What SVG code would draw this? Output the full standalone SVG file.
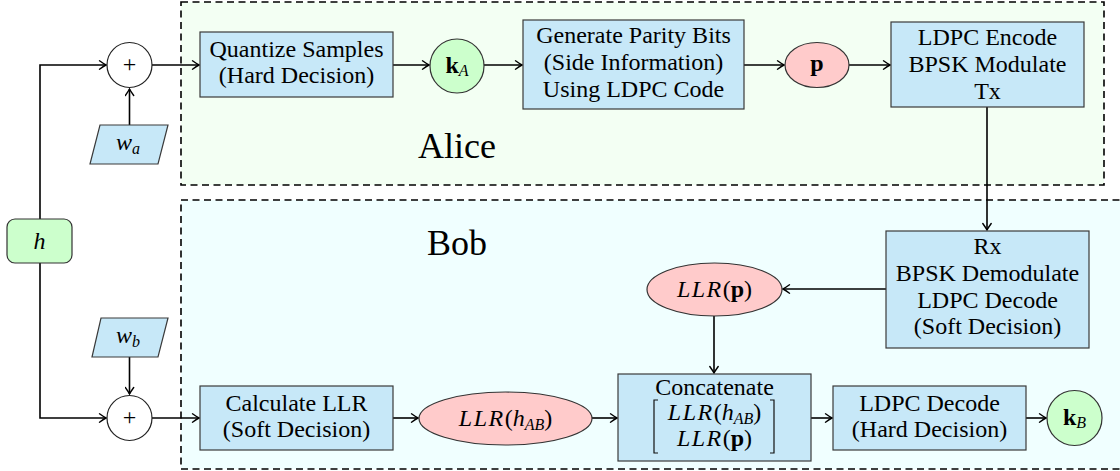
<svg xmlns="http://www.w3.org/2000/svg" width="1120" height="471" viewBox="0 0 1120 471" font-family="Times New Roman, Liberation Serif, serif" font-size="24" text-anchor="middle">
<defs>
<marker id="arr" viewBox="-8 -5 10 10" refX="0" refY="0" markerWidth="10" markerHeight="10" markerUnits="userSpaceOnUse" orient="auto">
<path d="M -6.5 -4.2 Q -2 -1 0 0 Q -2 1 -6.5 4.2" fill="none" stroke="#000" stroke-width="1.4" stroke-linecap="round"/>
</marker>
</defs>
<g id="alice-region">
<rect x="181" y="2" width="923" height="183" fill="#f3fff3" stroke="#000" stroke-width="1.6" stroke-dasharray="7 4.5"/>
<text x="457" y="158" font-size="36">Alice</text>
</g>
<g id="bob-region">
<rect x="181" y="200" width="950" height="269" fill="#f0ffff" stroke="#000" stroke-width="1.6" stroke-dasharray="7 4.5"/>
<text x="457" y="255" font-size="36">Bob</text>
</g>
<g id="connectors" fill="none" stroke="#000" stroke-width="1.6" marker-end="url(#arr)">
<polyline points="40,219 40,65 106,65"/>
<polyline points="40,263 40,418 106,418"/>
<line x1="129.5" y1="125" x2="129.5" y2="89"/>
<line x1="129.5" y1="357" x2="129.5" y2="394"/>
<line x1="152" y1="65" x2="199" y2="65"/>
<line x1="393" y1="65" x2="429" y2="65"/>
<line x1="484" y1="65" x2="522" y2="65"/>
<line x1="744" y1="65" x2="784" y2="65"/>
<line x1="849" y1="65" x2="890" y2="65"/>
<line x1="987" y1="107" x2="987" y2="230"/>
<line x1="886" y1="289" x2="783" y2="289"/>
<line x1="714" y1="316" x2="714" y2="373"/>
<line x1="152" y1="418" x2="199" y2="418"/>
<line x1="393" y1="418" x2="418" y2="418"/>
<line x1="592" y1="418" x2="617" y2="418"/>
<line x1="811" y1="418" x2="832" y2="418"/>
<line x1="1026" y1="418" x2="1046" y2="418"/>
</g>
<g id="h">
<rect x="7" y="219" width="65" height="44" rx="8" fill="#ccffcc" stroke="#333" stroke-width="1.2"/>
<text x="39.5" y="249" font-style="italic">h</text>
</g>
<g id="sum-a">
<circle cx="129.5" cy="65" r="22.5" fill="#fff" stroke="#222" stroke-width="1.2"/>
<text x="129.5" y="72">+</text>
</g>
<g id="sum-b">
<circle cx="129.5" cy="418" r="22.5" fill="#fff" stroke="#222" stroke-width="1.2"/>
<text x="129.5" y="425">+</text>
</g>
<g id="wa">
<polygon points="100,125 168,125 158,164 90,164" fill="#c7e8f8" stroke="#3a3a3a" stroke-width="1.2"/>
<text x="128" y="150" font-style="italic">w<tspan font-size="16" dy="4">a</tspan></text>
</g>
<g id="wb">
<polygon points="101,318 168,318 158,357 92,357" fill="#c7e8f8" stroke="#3a3a3a" stroke-width="1.2"/>
<text x="128" y="343" font-style="italic">w<tspan font-size="16" dy="4">b</tspan></text>
</g>
<g id="quantize">
<rect x="200" y="32" width="193" height="65" fill="#c7e8f8" stroke="#3a3a3a" stroke-width="1.2"/>
<text x="296.5" y="57">Quantize Samples</text>
<text x="296.5" y="83">(Hard Decision)</text>
</g>
<g id="kA">
<circle cx="457" cy="66" r="27" fill="#ccffcc" stroke="#333" stroke-width="1.2"/>
<text x="457" y="73"><tspan font-weight="bold">k</tspan><tspan font-style="italic" font-size="16" dy="3">A</tspan></text>
</g>
<g id="parity">
<rect x="523" y="20" width="221" height="89" fill="#c7e8f8" stroke="#3a3a3a" stroke-width="1.2"/>
<text x="633.5" y="43">Generate Parity Bits</text>
<text x="633.5" y="70">(Side Information)</text>
<text x="633.5" y="97">Using LDPC Code</text>
</g>
<g id="p">
<ellipse cx="817" cy="65" rx="32" ry="22.5" fill="#ffcbcb" stroke="#333" stroke-width="1.2"/>
<text x="817" y="71" font-weight="bold">p</text>
</g>
<g id="encode">
<rect x="891" y="22" width="193" height="85" fill="#c7e8f8" stroke="#3a3a3a" stroke-width="1.2"/>
<text x="987.5" y="45">LDPC Encode</text>
<text x="987.5" y="72">BPSK Modulate</text>
<text x="987.5" y="99">Tx</text>
</g>
<g id="rx">
<rect x="886" y="231" width="203" height="117" fill="#c7e8f8" stroke="#3a3a3a" stroke-width="1.2"/>
<text x="987.5" y="254">Rx</text>
<text x="987.5" y="281">BPSK Demodulate</text>
<text x="987.5" y="308">LDPC Decode</text>
<text x="987.5" y="334">(Soft Decision)</text>
</g>
<g id="llrp">
<ellipse cx="714.5" cy="289.5" rx="67.5" ry="26.5" fill="#ffcbcb" stroke="#333" stroke-width="1.2"/>
<text x="714.5" y="297"><tspan font-style="italic" letter-spacing="1.5">LLR</tspan>(<tspan font-weight="bold">p</tspan>)</text>
</g>
<g id="calc">
<rect x="200" y="386" width="193" height="64" fill="#c7e8f8" stroke="#3a3a3a" stroke-width="1.2"/>
<text x="296.5" y="411">Calculate LLR</text>
<text x="296.5" y="437">(Soft Decision)</text>
</g>
<g id="llrh">
<ellipse cx="505.5" cy="418.5" rx="86.5" ry="26.5" fill="#ffcbcb" stroke="#333" stroke-width="1.2"/>
<text x="505.5" y="426"><tspan font-style="italic" letter-spacing="1.5">LLR</tspan>(<tspan font-style="italic">h</tspan><tspan font-style="italic" font-size="16" dy="4">AB</tspan><tspan dy="-4">)</tspan></text>
</g>
<g id="concat">
<rect x="618" y="374" width="193" height="87" fill="#c7e8f8" stroke="#3a3a3a" stroke-width="1.2"/>
<text x="714.5" y="395">Concatenate</text>
<text x="714.5" y="420"><tspan font-style="italic" letter-spacing="1.5">LLR</tspan>(<tspan font-style="italic">h</tspan><tspan font-style="italic" font-size="16" dy="4">AB</tspan><tspan dy="-4">)</tspan></text>
<text x="714.5" y="446"><tspan font-style="italic" letter-spacing="1.5">LLR</tspan>(<tspan font-weight="bold">p</tspan>)</text>
<path d="M 658 400 H 654 V 453 H 658 M 770 400 H 774 V 453 H 770" fill="none" stroke="#111" stroke-width="1.2"/>
</g>
<g id="ldpcdec">
<rect x="833" y="386" width="193" height="64" fill="#c7e8f8" stroke="#3a3a3a" stroke-width="1.2"/>
<text x="929.5" y="411">LDPC Decode</text>
<text x="929.5" y="437">(Hard Decision)</text>
</g>
<g id="kB">
<circle cx="1074.5" cy="418" r="27.5" fill="#ccffcc" stroke="#333" stroke-width="1.2"/>
<text x="1074.5" y="425"><tspan font-weight="bold">k</tspan><tspan font-style="italic" font-size="16" dy="3">B</tspan></text>
</g>
</svg>
